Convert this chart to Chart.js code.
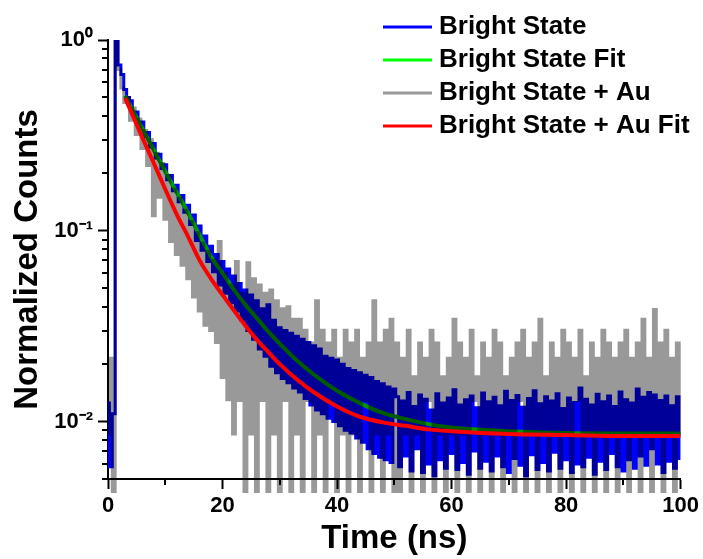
<!DOCTYPE html>
<html lang="en">
<head>
<meta charset="UTF-8">
<title>Bright State decay</title>
<script src="https://cdn.jsdelivr.net/npm/chart.js"></script>
<style>
  html, body { margin: 0; padding: 0; background: #fff; }
  #wrap { width: 703px; height: 559px; position: relative; }
</style>
</head>
<body>
<div id="wrap"><canvas id="decayChart"></canvas></div>
<script>
// measured traces, one value every 0.5 ns from 0 to 100 ns
const timeStep = 0.5;

const brightState = [
  0.0125, 0.0058, 0.0110, 1.00, 0.74, 0.66, 0.55, 0.50, 0.48, 0.405,
  0.42, 0.355, 0.372, 0.312, 0.327, 0.275, 0.287, 0.241, 0.252, 0.212,
  0.222, 0.185, 0.195, 0.162, 0.173, 0.142, 0.153, 0.125, 0.136, 0.108,
  0.121, 0.089, 0.106, 0.079, 0.094, 0.069, 0.083, 0.061, 0.075, 0.052,
  0.069, 0.047, 0.063, 0.042, 0.058, 0.038, 0.053, 0.034, 0.049, 0.030,
  0.046, 0.027, 0.043, 0.024, 0.039, 0.022, 0.041, 0.0195, 0.034, 0.018,
  0.031, 0.0168, 0.030, 0.0160, 0.029, 0.0150, 0.028, 0.0143, 0.027, 0.0132,
  0.026, 0.0122, 0.025, 0.0115, 0.024, 0.0110, 0.022, 0.0104, 0.0215, 0.0100,
  0.021, 0.0095, 0.020, 0.0090, 0.019, 0.0087, 0.0185, 0.0082, 0.018, 0.0078,
  0.0175, 0.0072, 0.017, 0.0068, 0.0162, 0.0065, 0.0158, 0.0063, 0.0152, 0.0061,
  0.0148, 0.0135, 0.0058, 0.0128, 0.0066, 0.0142, 0.0055, 0.0120, 0.0072, 0.0138,
  0.0054, 0.0131, 0.0060, 0.0115, 0.0052, 0.0140, 0.0063, 0.0125, 0.0057, 0.0133,
  0.0068, 0.0147, 0.0056, 0.0122, 0.0061, 0.0130, 0.0053, 0.0136, 0.0070, 0.0118,
  0.0057, 0.0141, 0.0062, 0.0127, 0.0055, 0.0134, 0.0066, 0.0121, 0.0058, 0.0144,
  0.0054, 0.0129, 0.0064, 0.0137, 0.0059, 0.0119, 0.0052, 0.0132, 0.0067, 0.0145,
  0.0056, 0.0124, 0.0061, 0.0135, 0.0055, 0.0128, 0.0069, 0.0140, 0.0057, 0.0117,
  0.0063, 0.0133, 0.0054, 0.0126, 0.0060, 0.0150, 0.0058, 0.0131, 0.0065, 0.0122,
  0.0053, 0.0139, 0.0062, 0.0127, 0.0056, 0.0136, 0.0068, 0.0120, 0.0058, 0.0143,
  0.0055, 0.0130, 0.0063, 0.0125, 0.0057, 0.0148, 0.0066, 0.0134, 0.0059, 0.0142,
  0.0072, 0.0138, 0.0060, 0.0129, 0.0054, 0.0136, 0.0062, 0.0121, 0.0057, 0.0135,
  0.0064
];

const brightStateAu = [
  0.0086, 0.0215, 0.0043, 1.00, 0.70, 0.56, 0.47, 0.50, 0.38, 0.44,
  0.32, 0.385, 0.27, 0.335, 0.22, 0.30, 0.12, 0.255, 0.15, 0.225,
  0.115, 0.195, 0.088, 0.165, 0.075, 0.148, 0.066, 0.128, 0.056, 0.112,
  0.045, 0.098, 0.038, 0.086, 0.032, 0.078, 0.030, 0.070, 0.026, 0.088,
  0.017, 0.060, 0.013, 0.052, 0.0086, 0.069, 0.0129, 0.047, 0.0043, 0.068,
  0.0086, 0.056, 0.0043, 0.052, 0.0129, 0.047, 0.0043, 0.049, 0.0086, 0.043,
  0.0043, 0.039, 0.0129, 0.040, 0.0043, 0.0344, 0.0086, 0.0344, 0.0043, 0.0301,
  0.0129, 0.0258, 0.0043, 0.043, 0.0086, 0.0301, 0.0043, 0.0258, 0.0129, 0.0301,
  0.0043, 0.0215, 0.0086, 0.0301, 0.0043, 0.0258, 0.0086, 0.0301, 0.0043, 0.0215,
  0.0129, 0.0258, 0.0043, 0.043, 0.0086, 0.0258, 0.0043, 0.0301, 0.0086, 0.0344,
  0.0043, 0.0258, 0.0043, 0.0215, 0.0086, 0.0301, 0.0043, 0.0172, 0.0086, 0.0258,
  0.0043, 0.0215, 0.0129, 0.0301, 0.0043, 0.0258, 0.0086, 0.0172, 0.0043, 0.0215,
  0.0086, 0.0344, 0.0043, 0.0258, 0.0086, 0.0215, 0.0043, 0.0301, 0.0129, 0.0172,
  0.0043, 0.0258, 0.0086, 0.0215, 0.0043, 0.0301, 0.0086, 0.0258, 0.0043, 0.0172,
  0.0086, 0.0215, 0.0043, 0.0258, 0.0129, 0.0301, 0.0043, 0.0215, 0.0086, 0.0258,
  0.0043, 0.0344, 0.0086, 0.0172, 0.0043, 0.0258, 0.0086, 0.0215, 0.0043, 0.0301,
  0.0086, 0.0258, 0.0043, 0.0215, 0.0129, 0.0301, 0.0043, 0.0172, 0.0086, 0.0258,
  0.0043, 0.0215, 0.0086, 0.0301, 0.0043, 0.0258, 0.0086, 0.0215, 0.0043, 0.0258,
  0.0086, 0.0301, 0.0043, 0.0215, 0.0086, 0.0258, 0.0043, 0.0344, 0.0086, 0.0215,
  0.0043, 0.0387, 0.0086, 0.0258, 0.0043, 0.0301, 0.0086, 0.0215, 0.0043, 0.0258,
  0.0086
];

// fit curves
const fitTimes = [3, 4, 5, 6, 8, 10, 12, 14, 16, 18, 20, 22, 24, 26, 28, 30, 33, 36, 40, 44, 48, 52, 56, 60, 70, 80, 90, 100];
const brightFit = [0.51, 0.446, 0.392, 0.344, 0.265, 0.205, 0.159, 0.124, 0.095, 0.073, 0.060, 0.049, 0.041, 0.0348,
  0.0296, 0.0256, 0.0209, 0.0176, 0.0145, 0.0125, 0.0111, 0.0103, 0.0097, 0.0093, 0.0089, 0.0087, 0.00866, 0.00865];
const brightAuFit = [0.495, 0.423, 0.361, 0.308, 0.226, 0.165, 0.122, 0.093, 0.070, 0.056, 0.0461, 0.0382, 0.0318, 0.0268,
  0.0231, 0.0200, 0.0166, 0.0142, 0.0120, 0.0106, 0.0099, 0.0095, 0.0091, 0.0089, 0.0086, 0.0085, 0.0084, 0.0084];

// axes
const xMajorTicks = [0, 20, 40, 60, 80, 100];
const xMinorTicks = [10, 30, 50, 70, 90];
const yDecades = [0.01, 0.1, 1];
const yDecadeLabels = ['10⁻²', '10⁻¹', '10⁰'];
const yMinorTicks = [0.005, 0.006, 0.007, 0.008, 0.009, 0.02, 0.03, 0.04, 0.05, 0.06, 0.07, 0.08, 0.09,
  0.2, 0.3, 0.4, 0.5, 0.6, 0.7, 0.8, 0.9];

const FONT = "'Liberation Sans', Arial, sans-serif";

function toPoints(times, values) {
  return values.map((v, i) => ({ x: times[i], y: v }));
}
const traceTimes = brightState.map((_, i) => i * timeStep);

// minor tick marks (library scales give the positions)
const minorTicks = {
  id: 'minorTicks',
  afterDraw(chart) {
    const { ctx, chartArea, scales } = chart;
    ctx.save();
    ctx.strokeStyle = '#000';
    ctx.lineWidth = 2;
    ctx.beginPath();
    yMinorTicks.forEach(v => {
      const y = Math.round(scales.y.getPixelForValue(v));
      ctx.moveTo(chartArea.left - 6, y);
      ctx.lineTo(chartArea.left, y);
    });
    xMinorTicks.forEach(v => {
      const x = Math.round(scales.x.getPixelForValue(v));
      ctx.moveTo(x, chartArea.bottom);
      ctx.lineTo(x, chartArea.bottom + 6);
    });
    ctx.stroke();
    ctx.restore();
  }
};

// legend block in the top right corner
const cornerLegend = {
  id: 'cornerLegend',
  afterDraw(chart) {
    const ctx = chart.ctx;
    ctx.save();
    ctx.font = 'bold 26px ' + FONT;
    ctx.textBaseline = 'alphabetic';
    chart.data.datasets.forEach((ds, i) => {
      const y = 27 + i * 33;
      ctx.strokeStyle = ds.legendColor;
      ctx.lineWidth = 3;
      ctx.beginPath();
      ctx.moveTo(383, y);
      ctx.lineTo(432, y);
      ctx.stroke();
      ctx.fillStyle = '#000';
      ctx.fillText(ds.label, 439, y + 7);
    });
    ctx.restore();
  }
};

new Chart(document.getElementById('decayChart'), {
  type: 'line',
  data: {
    datasets: [
      {
        label: 'Bright State',
        data: toPoints(traceTimes, brightState),
        borderColor: '#0000ff',
        legendColor: '#0000ff',
        borderWidth: 3,
        stepped: 'middle',
        order: 4
      },
      {
        label: 'Bright State Fit',
        data: toPoints(fitTimes, brightFit),
        borderColor: '#009900',
        legendColor: '#00ff00',
        borderWidth: 4,
        cubicInterpolationMode: 'monotone',
        order: 3
      },
      {
        label: 'Bright State + Au',
        data: toPoints(traceTimes, brightStateAu),
        borderColor: 'rgba(0,0,0,0.4)',
        legendColor: 'rgba(0,0,0,0.4)',
        borderWidth: 3,
        stepped: 'middle',
        clip: { left: 0, top: 0, right: 1, bottom: 14 },
        order: 2
      },
      {
        label: 'Bright State + Au Fit',
        data: toPoints(fitTimes, brightAuFit),
        borderColor: '#ff0000',
        legendColor: '#ff0000',
        borderWidth: 4,
        cubicInterpolationMode: 'monotone',
        order: 1
      }
    ]
  },
  options: {
    responsive: true,
    maintainAspectRatio: false,
    animation: false,
    elements: { point: { radius: 0 }, line: { tension: 0, fill: false } },
    layout: { padding: { top: 40, right: 22, left: 0, bottom: 0 } },
    plugins: { legend: { display: false }, tooltip: { enabled: false } },
    scales: {
      x: {
        type: 'linear',
        min: 0,
        max: 100,
        afterBuildTicks: scale => { scale.ticks = xMajorTicks.map(v => ({ value: v })); },
        afterFit: scale => { scale.height = 80; },
        ticks: { color: '#000', padding: 4, font: { family: FONT, size: 22, weight: 'bold' } },
        grid: { drawOnChartArea: false, tickLength: 10, tickWidth: 2, tickColor: '#000' },
        border: { color: '#000', width: 2 },
        title: {
          display: true,
          text: 'Time (ns)',
          color: '#000',
          padding: { top: 0, bottom: 0 },
          font: { family: FONT, size: 33, weight: 'bold', lineHeight: 1.2 }
        }
      },
      y: {
        type: 'logarithmic',
        min: 0.005,
        max: 1,
        afterBuildTicks: scale => { scale.ticks = yDecades.map(v => ({ value: v })); },
        afterFit: scale => { scale.width = 108; },
        ticks: {
          color: '#000',
          padding: 5,
          font: { family: FONT, size: 22, weight: 'bold' },
          callback: value => yDecadeLabels[yDecades.indexOf(value)]
        },
        grid: { drawOnChartArea: false, tickLength: 10, tickWidth: 2, tickColor: '#000' },
        border: { color: '#000', width: 2 },
        title: {
          display: true,
          text: 'Normalized Counts',
          color: '#000',
          padding: { top: 8, bottom: 0 },
          font: { family: FONT, size: 33, weight: 'bold', lineHeight: 1.2 }
        }
      }
    }
  },
  plugins: [minorTicks, cornerLegend]
});
</script>
</body>
</html>
